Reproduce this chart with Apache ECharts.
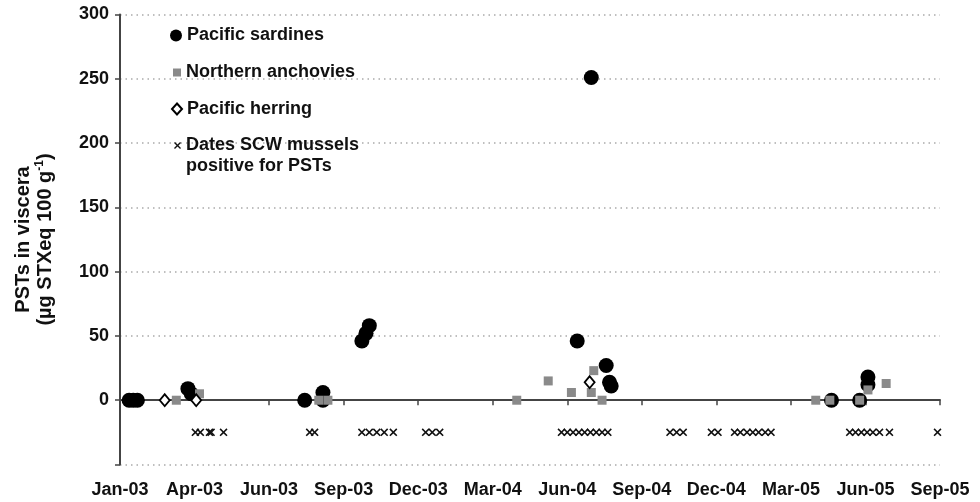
<!DOCTYPE html>
<html>
<head>
<meta charset="utf-8">
<script src="https://cdn.jsdelivr.net/npm/echarts@6/dist/echarts.min.js"></script>
<style>
html,body{margin:0;padding:0;background:#fff;}
#chart{width:980px;height:502px;}
</style>
</head>
<body>
<div id="chart"></div>
<script>
// ---- Data (dates sampled; values in µg STXeq 100 g-1) ----
const sardineDates = ['2003-01-12','2003-01-17','2003-01-22','2003-03-24','2003-03-28','2003-08-12','2003-09-03','2003-09-03','2003-10-20','2003-10-25','2003-10-29','2004-07-06','2004-07-23','2004-08-10','2004-08-14','2004-08-16','2005-05-09','2005-06-12','2005-06-22','2005-06-22'];
const sardineValues = [0,0,0,9,5,0,6,0,46,52,58,46,251,27,14,11,0,0,18,12];

const anchovyDates = ['2003-03-10','2003-04-07','2003-08-29','2003-09-09','2004-04-24','2004-06-01','2004-06-29','2004-07-23','2004-07-26','2004-08-05','2005-04-20','2005-05-07','2005-06-12','2005-06-22','2005-07-14'];
const anchovyValues = [0,5,0,0,0,15,6,6,23,0,0,0,0,8,13];

const herringDates = ['2003-02-24','2003-04-03','2004-07-21'];
const herringValues = [0,0,14];

const musselDates = ['2003-04-02','2003-04-08','2003-04-19','2003-04-21','2003-05-06','2003-08-18','2003-08-24','2003-10-20','2003-10-29','2003-11-07','2003-11-16','2003-11-27','2004-01-05','2004-01-13','2004-01-22',
  '2004-06-17','2004-06-24','2004-07-01','2004-07-08','2004-07-15','2004-07-22','2004-07-29','2004-08-05','2004-08-12',
  '2004-10-26','2004-11-03','2004-11-11','2004-12-15','2004-12-23',
  '2005-01-12','2005-01-19','2005-01-27','2005-02-03','2005-02-10','2005-02-18','2005-02-25',
  '2005-05-31','2005-06-07','2005-06-14','2005-06-21','2005-06-28','2005-07-06','2005-07-18','2005-09-14'];
const musselMarkerValue = -25;

const seriesNames = ['Pacific sardines','Northern anchovies','Pacific herring','Dates SCW mussels positive for PSTs'];
const yTicks = [-50,0,50,100,150,200,250,300];
const monthNames = ['Jan','Feb','Mar','Apr','May','Jun','Jul','Aug','Sep','Oct','Nov','Dec'];

// ---- helpers ----
const BASE = Date.UTC(2003,0,1);
const dayOf = s => (Date.UTC(+s.slice(0,4), +s.slice(5,7)-1, +s.slice(8,10)) - BASE)/86400000;
const pairs = (d, v) => d.map((s,i)=>[dayOf(s), Array.isArray(v)? v[i] : v]);
const fmtDay = v => { const d = new Date(BASE + v*86400000); return monthNames[d.getUTCMonth()] + '-' + String(d.getUTCFullYear()).slice(2); };

const FONT = '"Liberation Sans", Arial, Helvetica, sans-serif';
const crossPath = 'path://M0,1.4L1.4,0L5,3.6L8.6,0L10,1.4L6.4,5L10,8.6L8.6,10L5,6.4L1.4,10L0,8.6L3.6,5Z';
const legendText = {fontFamily: FONT, fontWeight:'bold', fontSize:18, color:'#111'};

const chart = echarts.init(document.getElementById('chart'), null, {renderer:'canvas'});
chart.setOption({
  animation:false,
  backgroundColor:'#fff',
  textStyle:{fontFamily:FONT},
  grid:{left:120, right:40, top:14.5, bottom:37.5},
  xAxis:{
    type:'value', min:0, max:990, interval:90,
    axisLine:{show:true, lineStyle:{color:'#444', width:2}},
    axisTick:{show:true, length:5, lineStyle:{color:'#444', width:1.5}},
    axisLabel:{formatter:fmtDay, fontFamily:FONT, fontWeight:'bold', fontSize:18, color:'#111', margin:17},
    splitLine:{show:false}
  },
  yAxis:{
    type:'value', min:yTicks[0], max:yTicks[yTicks.length-1], interval:50,
    axisLine:{show:true, onZero:false, lineStyle:{color:'#444', width:2}},
    axisTick:{show:true, length:5, lineStyle:{color:'#444', width:1.5}},
    axisLabel:{formatter:v => v < 0 ? '' : String(v), fontFamily:FONT, fontWeight:'bold', fontSize:18, color:'#111', margin:11},
    splitLine:{show:true, lineStyle:{color:'#aaa', width:1.5, type:[1.5,4]}},
    name:'{a|PSTs in viscera}\n{a|(µg STXeq 100 g}{s|-1}{a|)}',
    nameLocation:'middle', nameRotate:90, nameGap:64,
    nameTextStyle:{
      fontFamily:FONT, fontWeight:'bold', fontSize:20, color:'#111', lineHeight:22,
      rich:{
        a:{fontFamily:FONT, fontWeight:'bold', fontSize:20, color:'#111', lineHeight:22},
        s:{fontFamily:FONT, fontWeight:'bold', fontSize:12, color:'#111', lineHeight:22, verticalAlign:'top', padding:[0,0,9,0]}
      }
    }
  },
  legend:[
    {data:[{name:seriesNames[0], icon:'circle'}], orient:'vertical', left:170, top:26.5, padding:0, itemWidth:12, itemHeight:12, textStyle:legendText},
    {data:[{name:seriesNames[1], icon:'rect'}], orient:'vertical', left:173, top:63.5, padding:0, itemWidth:8, itemHeight:8, textStyle:legendText},
    {data:[{name:seriesNames[2], icon:'diamond'}], orient:'vertical', left:171, top:100, padding:0, itemWidth:10, itemHeight:11, textStyle:legendText},
    {data:[{name:seriesNames[3], icon:crossPath}], orient:'vertical', left:174, top:114, padding:0, itemWidth:7, itemHeight:7,
      formatter:() => ' \nDates SCW mussels\npositive for PSTs',
      textStyle:Object.assign({}, legendText, {lineHeight:21})}
  ],
  series:[
    {name:seriesNames[0], type:'scatter', symbol:'circle', symbolSize:15,
     itemStyle:{color:'#000', opacity:1}, data:pairs(sardineDates, sardineValues), z:2},
    {name:seriesNames[1], type:'scatter', symbol:'rect', symbolSize:9,
     itemStyle:{color:'#8a8a8a', opacity:1}, data:pairs(anchovyDates, anchovyValues), z:3},
    {name:seriesNames[2], type:'scatter', symbol:'diamond', symbolSize:[10,12],
     itemStyle:{color:'#fff', borderColor:'#000', borderWidth:1.8, opacity:1}, data:pairs(herringDates, herringValues), z:4},
    {name:seriesNames[3], type:'scatter', symbol:crossPath, symbolSize:8,
     itemStyle:{color:'#111', opacity:1}, data:pairs(musselDates, musselMarkerValue), z:5}
  ]
});
</script>
</body>
</html>
